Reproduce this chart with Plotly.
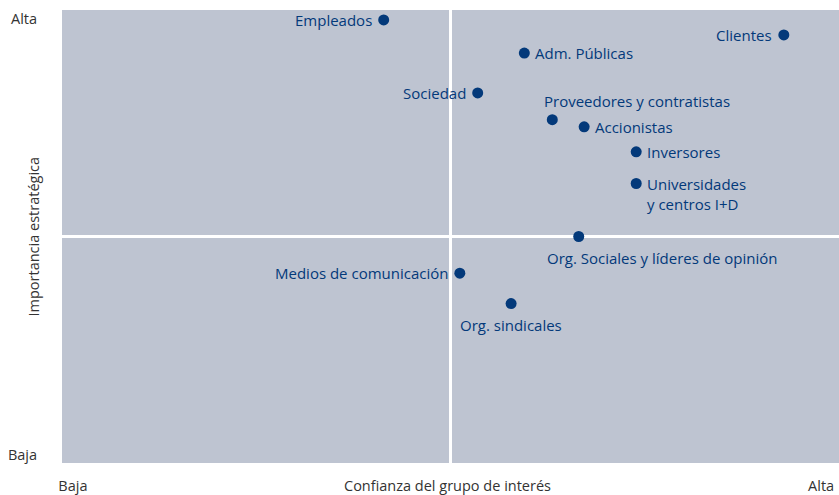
import plotly.graph_objects as go

# Stakeholder map: confidence (x) vs strategic importance (y), 0-10 scale
grupos = [
    "Empleados", "Adm. Públicas", "Clientes", "Sociedad",
    "Proveedores y contratistas", "Accionistas", "Inversores",
    "Universidades<br>y centros I+D", "Org. Sociales y líderes de opinión",
    "Medios de comunicación", "Org. sindicales",
]
confianza = [4.14, 5.95, 9.29, 5.35, 6.31, 6.72, 7.39, 7.39, 6.65, 5.12, 5.78]
importancia = [9.78, 9.05, 9.45, 8.17, 7.58, 7.42, 6.87, 6.17, 5.0, 4.19, 3.52]
# label placement relative to its dot
posicion = ["left", "right", "left", "left", "above", "right", "right",
            "right2", "below_r", "left", "below"]

x_ticks = [0.14, 9.77]
x_ticktext = ["Baja", "Alta"]
y_ticks = [0.18, 9.8]
y_ticktext = ["Baja", "Alta"]

AZUL = "#03397a"
GRIS = "#bec4d1"
FONT = "Open Sans"

fig = go.Figure()
fig.add_trace(go.Scatter(
    x=confianza, y=importancia, mode="markers",
    marker=dict(size=11, color=AZUL), hoverinfo="skip",
))

place = {
    "left": dict(xanchor="right", yanchor="middle", xshift=-10, yshift=0),
    "right": dict(xanchor="left", yanchor="middle", xshift=9, yshift=0),
    "above": dict(xanchor="left", yanchor="middle", xshift=-10, yshift=19),
    "right2": dict(xanchor="left", yanchor="middle", xshift=9, yshift=-10),
    "below_r": dict(xanchor="left", yanchor="middle", xshift=-34, yshift=-21),
    "below": dict(xanchor="center", yanchor="middle", xshift=0, yshift=-21),
}
for name, xv, yv, p in zip(grupos, confianza, importancia, posicion):
    fig.add_annotation(
        x=xv, y=yv, text=name, showarrow=False, align="left",
        font=dict(family=FONT, size=15, color=AZUL), **place[p],
    )

# quadrant dividers
fig.add_shape(type="line", x0=5, x1=5, y0=0, y1=10, line=dict(color="white", width=3), layer="below")
fig.add_shape(type="line", x0=0, x1=10, y0=5, y1=5, line=dict(color="white", width=3), layer="below")

fig.add_annotation(
    xref="paper", yref="paper", x=-0.0373, y=0.5, xanchor="center", yanchor="middle",
    text="Importancia estratégica", textangle=-90, showarrow=False,
    font=dict(family=FONT, size=14.5, color="#333333"),
)
fig.add_annotation(
    xref="paper", yref="paper", x=0.4955, y=-0.05, xanchor="center", yanchor="middle",
    text="Confianza del grupo de interés", showarrow=False,
    font=dict(family=FONT, size=14.5, color="#333333"),
)

fig.update_layout(
    width=839, height=495,
    margin=dict(l=62, r=0, t=10, b=29),
    paper_bgcolor="white", plot_bgcolor=GRIS,
    showlegend=False,
    font=dict(family=FONT, size=14.5, color="#333333"),
    xaxis=dict(
        range=[0, 10], showgrid=False, zeroline=False,
        tickvals=x_ticks, ticktext=x_ticktext,
        ticks="outside", ticklen=10, tickcolor="rgba(0,0,0,0)",
    ),
    yaxis=dict(
        range=[0, 10], showgrid=False, zeroline=False,
        tickvals=y_ticks, ticktext=y_ticktext,
        ticks="outside", ticklen=21, tickcolor="rgba(0,0,0,0)",
    ),
)

# drop the page's default body margin so the figure sits at the window's corner
fig.write_html(
    "out.html",
    config={"displayModeBar": False},
    post_script="document.body.style.margin='0';document.body.style.overflow='hidden';",
)
